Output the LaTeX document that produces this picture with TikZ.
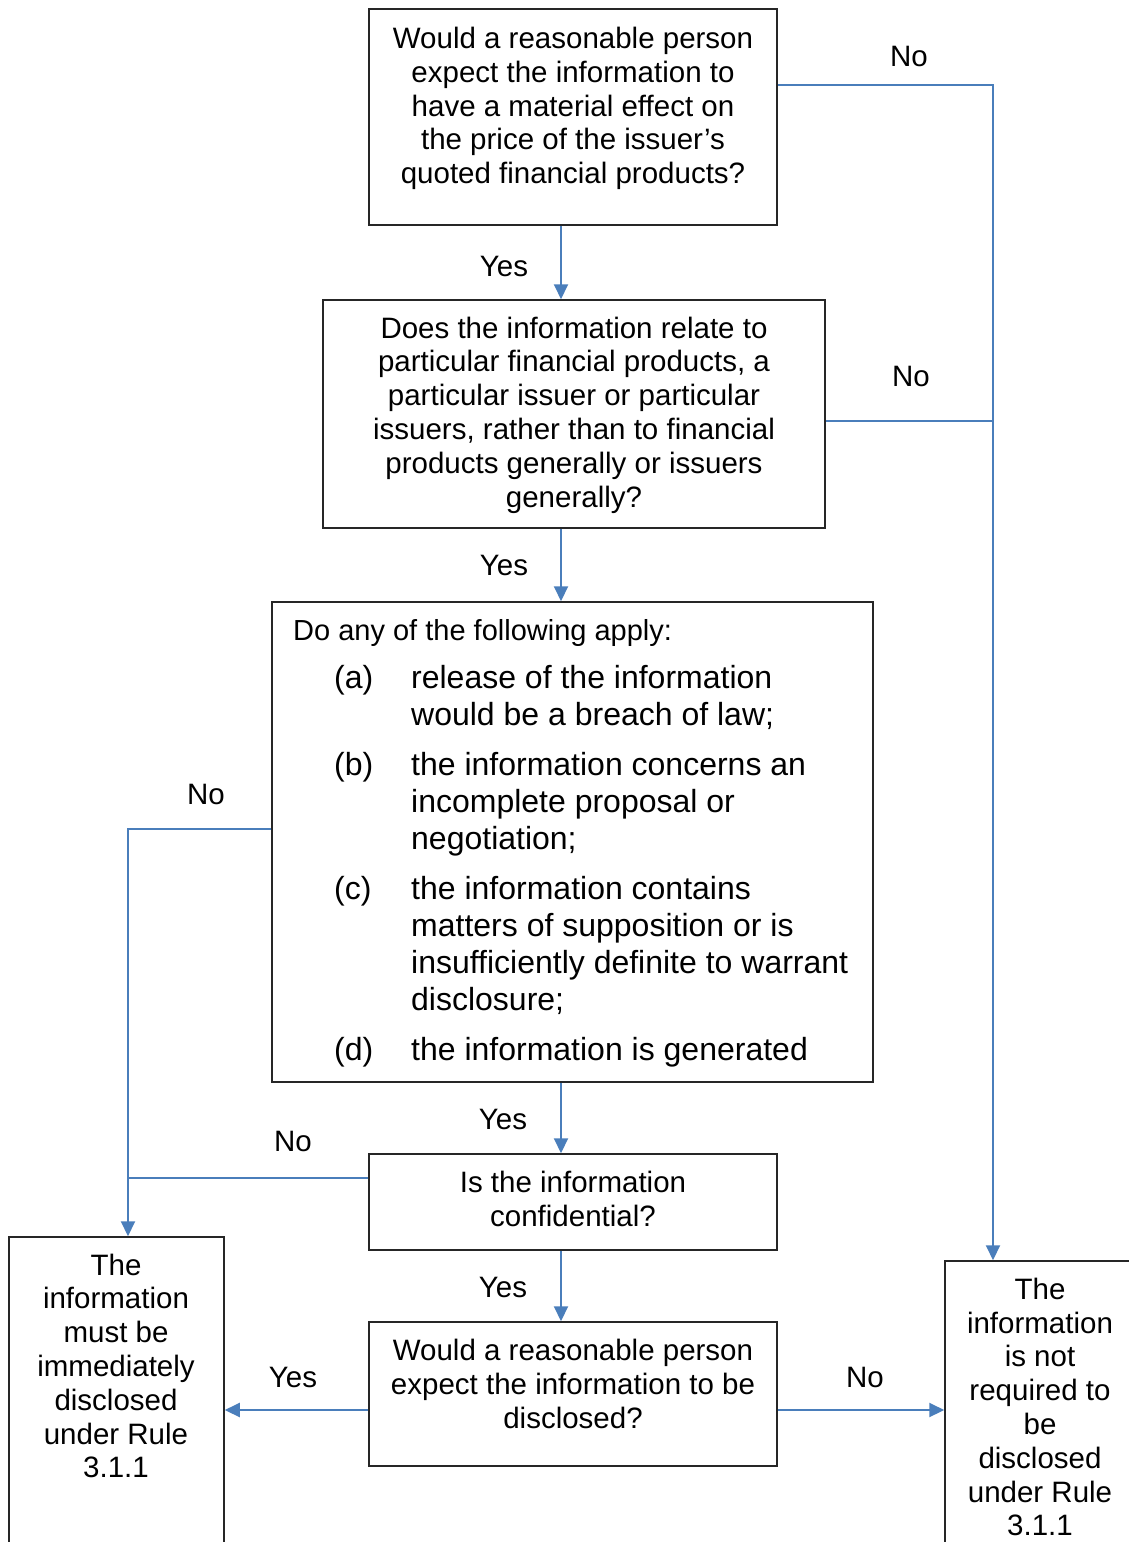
\documentclass[tikz,border=0pt]{standalone}
\usepackage{fontspec}
\setmainfont{Liberation Sans}
\usetikzlibrary{arrows.meta}
\definecolor{linkblue}{HTML}{4A7EBB}
\newcommand{\itm}[1]{\hspace*{41pt}\makebox[77pt][l]{(#1)}}

\begin{document}
\begin{tikzpicture}
        [x=1pt,y=-1pt,%%%%%%%%%%%%%%%%%%%%%%%%%%%%%%
        qbox/.style={rectangle,draw=black!85,line width=1.5pt,inner sep=0pt},
        txt/.style={align=center,inner sep=0pt,font=\fontsize{29.5}{33.8}\selectfont},
        lbl/.style={inner sep=0pt,font=\fontsize{29.5}{34}\selectfont},
        link/.style={draw=linkblue,line width=2pt},
        flow/.style={link,-{Triangle[length=15pt,width=14pt]}},
        ]%%%%%%%%%%%%%%%%%%%%%%%%%%%%%%

        \useasboundingbox (0,0) rectangle (1129,1542);
        \clip (0,0) rectangle (1129,1542);

        % guide lines for the connectors
        \coordinate (spine) at (561,0);
        \coordinate (rx) at (993,0);
        \coordinate (lx) at (128,0);
        \coordinate (ybot) at (0,1410);

        % question boxes
        \node[qbox,minimum width=408pt,minimum height=216pt] (ask1) at (573,117) {};
        \node[qbox,minimum width=502pt,minimum height=228pt] (ask2) at (574,414) {};
        \node[qbox,minimum width=601pt,minimum height=480pt] (ask3) at (572.5,842) {};
        \node[qbox,minimum width=408pt,minimum height=96pt] (ask4) at (573,1202) {};
        \node[qbox,minimum width=408pt,minimum height=144pt] (ask5) at (573,1394) {};

        % outcome boxes (run off the page)
        \node[qbox,minimum width=215pt,minimum height=343pt] (must) at (116.5,1408.5) {};
        \node[qbox,minimum width=190pt,minimum height=319pt] (notreq) at (1040,1420.5) {};

        % texts
        \node[txt] (ask1t) at (573,108.5) {Would a reasonable person\\expect the information to\\have a material effect on\\the price of the issuer’s\\quoted financial products?};
        \node[txt] (ask2t) at (574,415) {Does the information relate to\\particular financial products, a\\particular issuer or particular\\issuers, rather than to financial\\products generally or issuers\\generally?};
        \node[anchor=north west,inner sep=0pt,font=\fontsize{32}{37}\selectfont] (ask3t) at (293,614)
          {\begin{tabular}{@{}l@{}l@{}}
            \multicolumn{2}{@{}l@{}}{\fontsize{29}{34}\selectfont Do any of the following apply:}\\[11pt]
            \itm{a} & release of the information\\
                    & would be a breach of law;\\[13pt]
            \itm{b} & the information concerns an\\
                    & incomplete proposal or\\
                    & negotiation;\\[13pt]
            \itm{c} & the information contains\\
                    & matters of supposition or is\\
                    & insufficiently definite to warrant\\
                    & disclosure;\\[13pt]
            \itm{d} & the information is generated
          \end{tabular}};
        \node[txt] (ask4t) at (573,1199) {Is the information\\confidential?};
        \node[txt] (ask5t) at (573,1384) {Would a reasonable person\\expect the information to be\\disclosed?};
        \node[txt] (mustt) at (116,1366) {The\\information\\must be\\immediately\\disclosed\\under Rule\\3.1.1};
        \node[txt] (notreqt) at (1040,1407) {The\\information\\is not\\required to\\be\\disclosed\\under Rule\\3.1.1};

        % connectors
        \draw[flow] (ask1.south -| spine) -- (ask2.north -| spine);
        \draw[flow] (ask2.south -| spine) -- (ask3.north -| spine);
        \draw[flow] (ask3.south -| spine) -- (ask4.north -| spine);
        \draw[flow] (ask4.south -| spine) -- (ask5.north -| spine);

        \draw[flow] ([yshift=32pt]ask1.east) -| (notreq.north -| rx);
        \draw[link] ([yshift=-7pt]ask2.east) -- ([yshift=-7pt]ask2.east -| rx);
        \draw[flow] ([yshift=13pt]ask3.west) -| (must.north -| lx);
        \draw[link] ([yshift=24pt]ask4.west) -- ([yshift=24pt]ask4.west -| lx);
        \draw[flow] (ask5.west |- ybot) -- (must.east |- ybot);
        \draw[flow] (ask5.east |- ybot) -- (notreq.west |- ybot);

        % labels
        \node[lbl] (no1) at (909,56) {No};
        \node[lbl] (no2) at (911,376) {No};
        \node[lbl] (no3) at (206,794) {No};
        \node[lbl] (no4) at (293,1141) {No};
        \node[lbl] (no5) at (865,1377) {No};
        \node[lbl] (yes1) at (504,266) {Yes};
        \node[lbl] (yes2) at (504,565) {Yes};
        \node[lbl] (yes3) at (503,1119) {Yes};
        \node[lbl] (yes4) at (503,1287) {Yes};
        \node[lbl] (yes5) at (293,1377) {Yes};
      \end{tikzpicture}
\end{document}
